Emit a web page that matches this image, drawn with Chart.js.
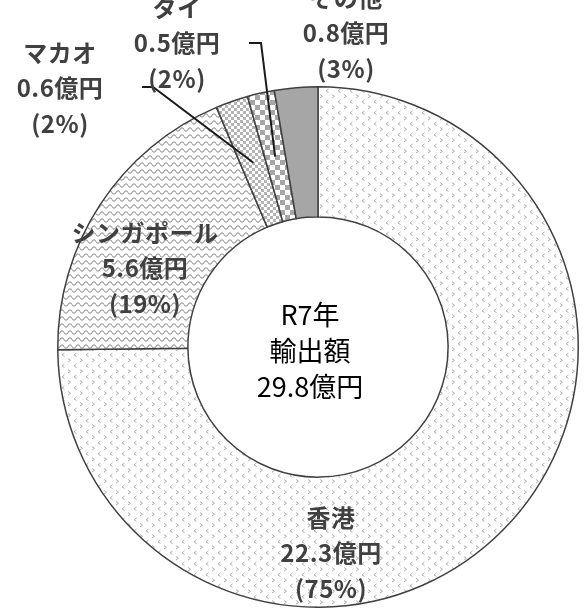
<!DOCTYPE html>
<html>
<head>
<meta charset="utf-8">
<script src="https://cdn.jsdelivr.net/npm/chart.js@4"></script>
<style>
  html, body { margin: 0; padding: 0; background: #fff; }
  #wrap { width: 584px; height: 613px; position: relative; }
</style>
</head>
<body>
<div id="wrap"><canvas id="graficoDona"></canvas></div>
<script>
// 輸出先別の輸出額（億円）
var paises = ['香港', 'シンガポール', 'マカオ', 'タイ', 'その他'];
var montos = [22.3, 5.6, 0.6, 0.5, 0.8];
var tituloCentro = ['R7年', '輸出額'];

// posiciones de las etiquetas, relativas al centro de la dona (linea del medio)
var posEtiquetas = [[13, 206], [-173, -79], [-258, -259], [-141, -304], [28, -314]];
// lineas guia: [inicio, codo] para cada sector que la lleva
var guias = { 2: [[-176, -260], [-165, -260]], 3: [[-69, -304], [-57, -304]] };

function patron(w, h, dibujar) {
  var c = document.createElement('canvas');
  c.width = w; c.height = h;
  var g = c.getContext('2d');
  g.fillStyle = '#ffffff';
  g.fillRect(0, 0, w, h);
  dibujar(g);
  return document.getElementById('graficoDona').getContext('2d').createPattern(c, 'repeat');
}

// puntitos en forma de < >
var pHongKong = patron(12, 11, function(g){
  g.strokeStyle = '#b0b0b0';
  g.lineWidth = 1;
  g.beginPath();
  g.moveTo(4.5, 1); g.lineTo(2, 2.8); g.lineTo(4.5, 4.5);
  g.moveTo(8, 6.5); g.lineTo(10.5, 8.3); g.lineTo(8, 10);
  g.stroke();
});

// ondas
var pSingapur = patron(8, 7, function(g){
  g.strokeStyle = '#999999';
  g.lineWidth = 1.1;
  g.beginPath();
  for (var x = 0; x <= 8; x += 0.5) {
    var y = 3.5 + 1.7 * Math.sin(x / 8 * Math.PI * 2);
    if (x === 0) g.moveTo(x, y); else g.lineTo(x, y);
  }
  g.stroke();
});

// cuadricula fina
var pMacao = patron(6, 6, function(g){
  g.fillStyle = '#b4b4b4';
  g.fillRect(0, 0, 3, 3);
  g.fillRect(3, 3, 3, 3);
});

// cuadricula grande
var pTailandia = patron(10, 10, function(g){
  g.fillStyle = '#a6a6a6';
  g.fillRect(0, 0, 5, 5);
  g.fillRect(5, 5, 5, 5);
});

var total = montos.reduce(function(a, b){ return a + b; }, 0);

var pluginEtiquetas = {
  id: 'etiquetas',
  afterDraw: function(chart) {
    var ctx = chart.ctx;
    var meta = chart.getDatasetMeta(0);
    var cx = meta.data[0].x, cy = meta.data[0].y;
    ctx.save();

    // lineas guia
    ctx.strokeStyle = '#1a1a1a';
    ctx.lineWidth = 2;
    for (var k in guias) {
      var p = meta.data[k].getCenterPoint();
      ctx.beginPath();
      ctx.moveTo(cx + guias[k][0][0], cy + guias[k][0][1]);
      ctx.lineTo(cx + guias[k][1][0], cy + guias[k][1][1]);
      ctx.lineTo(p.x, p.y);
      ctx.stroke();
    }

    ctx.textAlign = 'center';
    ctx.textBaseline = 'middle';
    ctx.fillStyle = '#404040';
    ctx.font = 'bold 24px "Noto Sans CJK JP"';
    ctx.letterSpacing = '0.5px';
    for (var i = 0; i < paises.length; i++) {
      var pct = Math.round(montos[i] / total * 100);
      var lineas = [paises[i], montos[i].toFixed(1) + '億円', '(' + pct + '%)'];
      var x = cx + posEtiquetas[i][0], y = cy + posEtiquetas[i][1];
      for (var j = 0; j < 3; j++) {
        ctx.fillText(lineas[j], x, y + (j - 1) * 35.5);
      }
    }

    // texto del centro
    ctx.fillStyle = '#000000';
    ctx.font = '27px "Noto Sans CJK JP"';
    ctx.letterSpacing = '0px';
    var centro = tituloCentro.concat([total.toFixed(1) + '億円']);
    for (var j = 0; j < centro.length; j++) {
      ctx.fillText(centro[j], cx - 8, cy + 4 + (j - 1) * 36);
    }
    ctx.restore();
  }
};

const ctx = document.getElementById('graficoDona').getContext('2d');
const graficoDona = new Chart(ctx, {
  type: 'doughnut',
  data: {
    labels: paises,
    datasets: [{
      data: montos,
      backgroundColor: [pHongKong, pSingapur, pMacao, pTailandia, '#a6a6a6'],
      borderColor: '#404040',
      borderWidth: 1.5
    }]
  },
  options: {
    responsive: true,
    maintainAspectRatio: false,
    animation: false,
    cutout: '50%',
    layout: { padding: { left: 57, right: 5, top: 86, bottom: 5 } },
    plugins: {
      legend: { display: false },
      tooltip: { enabled: false }
    }
  },
  plugins: [pluginEtiquetas]
});
</script>
</body>
</html>
